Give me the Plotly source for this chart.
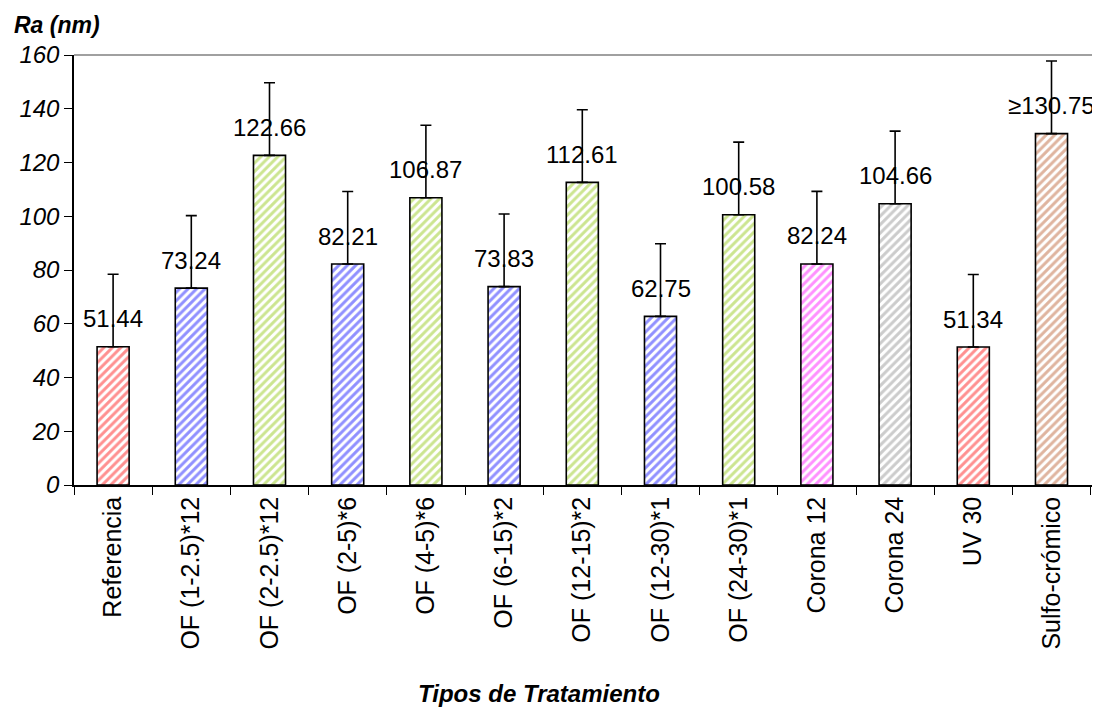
import plotly.graph_objects as go

categories = ["Referencia", "OF (1-2.5)*12", "OF (2-2.5)*12", "OF (2-5)*6", "OF (4-5)*6",
              "OF (6-15)*2", "OF (12-15)*2", "OF (12-30)*1", "OF (24-30)*1", "Corona 12",
              "Corona 24", "UV 30", "Sulfo-crómico"]
values = [51.44, 73.24, 122.66, 82.21, 106.87, 73.83, 112.61, 62.75, 100.58, 82.24, 104.66, 51.34, 130.75]
errors = [27, 27, 27, 27, 27, 27, 27, 27, 27, 27, 27, 27, 27]
value_labels = ["51.44", "73.24", "122.66", "82.21", "106.87", "73.83", "112.61", "62.75",
                "100.58", "82.24", "104.66", "51.34", "≥130.75"]
bar_colors = ["#FF2222", "#2222FF", "#99CC22", "#2222FF", "#99CC22", "#2222FF", "#99CC22",
              "#2222FF", "#99CC22", "#FF22FF", "#999999", "#FF2222", "#C06A40"]
y_ticks = [0, 20, 40, 60, 80, 100, 120, 140, 160]

FONT = "Liberation Sans, Arial, sans-serif"

fig = go.Figure()
fig.add_trace(go.Bar(
    x=categories, y=values, width=0.41,
    marker=dict(
        color="white",
        line=dict(color="black", width=1.6),
        pattern=dict(shape="/", fgcolor=bar_colors, bgcolor="white", size=6, solidity=0.5),
    ),
    error_y=dict(type="data", array=errors, arrayminus=[0] * len(errors), symmetric=False,
                 color="black", thickness=1.6, width=5.5),
    showlegend=False,
))

for c, v, t in zip(categories, values, value_labels):
    fig.add_annotation(x=c, y=v, text=t, showarrow=False, yanchor="middle", yshift=28,
                       font=dict(family=FONT, size=24, color="black"))

fig.add_annotation(xref="paper", yref="paper", x=-0.061, y=1.0, yshift=30, xanchor="left",
                   yanchor="middle", text="<b><i>Ra (nm)</i></b>", showarrow=False,
                   font=dict(family=FONT, size=23, color="black"))
fig.add_annotation(xref="paper", yref="paper", x=0.455, y=0, yshift=-208, xanchor="center",
                   yanchor="middle", text="<b><i>Tipos de Tratamiento</i></b>", showarrow=False,
                   font=dict(family=FONT, size=24, color="black"))

# gray frame on top and right
fig.add_shape(type="line", xref="paper", yref="paper", x0=0, x1=1, y0=1, y1=1,
              line=dict(color="#808080", width=1.5))
fig.add_shape(type="line", xref="paper", yref="paper", x0=1, x1=1, y0=0, y1=1,
              line=dict(color="#808080", width=1.5))

fig.update_layout(
    width=1092, height=700,
    margin=dict(l=66, r=3, t=47, b=223),
    plot_bgcolor="white", paper_bgcolor="white",
    font=dict(family=FONT, color="black"),
    xaxis=dict(
        type="category", tickangle=-90, showgrid=False, showline=True, linecolor="black",
        linewidth=1.5, ticks="outside", ticklen=8, tickcolor="black", tickson="boundaries",
        tickfont=dict(family=FONT, size=25, color="black"),
    ),
    yaxis=dict(
        range=[0, 160], tickvals=y_ticks, ticktext=[f"<i>{v}</i>" for v in y_ticks],
        showgrid=False, zeroline=False, showline=True, linecolor="black", linewidth=1.5,
        ticks="outside", ticklen=8, tickcolor="black",
        tickfont=dict(family=FONT, size=24, color="black"),
    ),
    bargap=0.59,
)

fig.write_html("out.html")
